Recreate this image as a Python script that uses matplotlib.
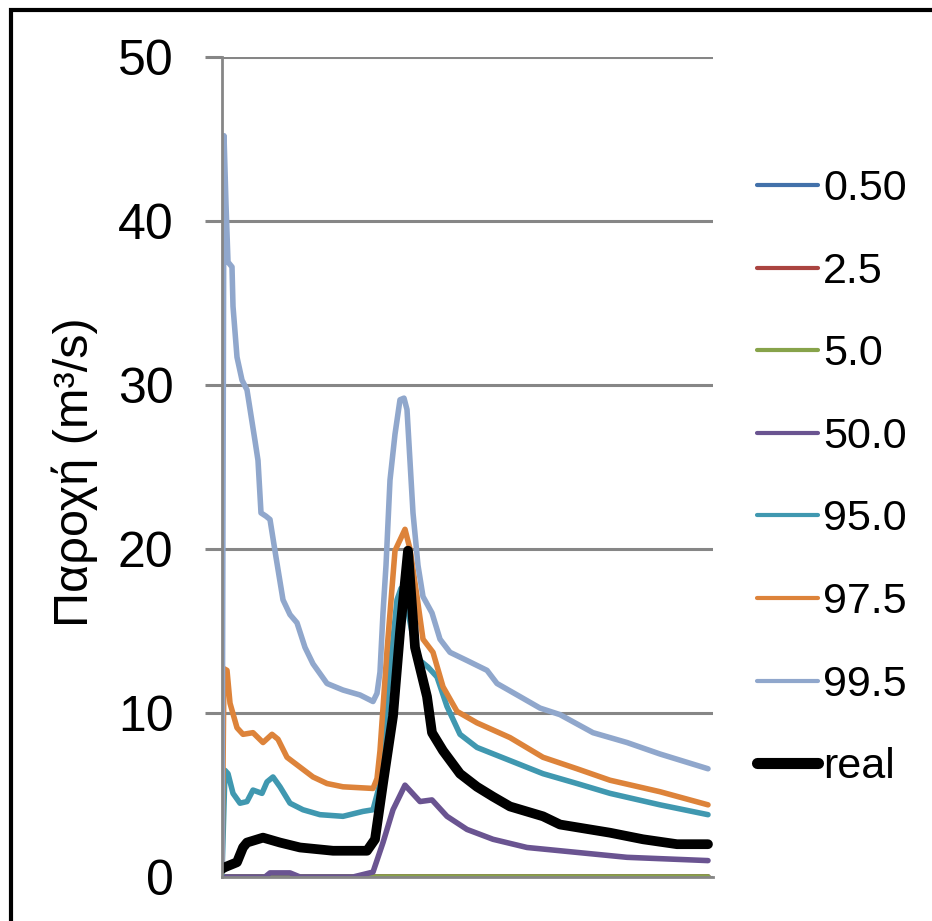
import matplotlib.pyplot as plt
from matplotlib.patches import Rectangle

plt.rcParams['font.family'] = ['Liberation Sans', 'DejaVu Sans']

# time steps (no labels on the x axis in the original)
t_low = [0, 486]
q_050 = [0, 0]
q_25 = [0, 0]
q_50 = [0, 0]

t_500 = [0, 43, 48, 68, 78, 131, 151, 161, 171, 183, 198, 210, 225, 245, 271, 305, 355, 405, 486]
q_500 = [0, 0, 0.25, 0.25, 0, 0, 0.3, 2.1, 4.1, 5.6, 4.6, 4.7, 3.7, 2.9, 2.3, 1.8, 1.5, 1.2, 1.0]

t_950 = [0, 3, 6, 11, 18, 25, 31, 40, 45, 51, 58, 68, 81, 98, 121, 141, 151, 158, 165, 175,
         179, 185, 191, 198, 206, 215, 225, 238, 255, 288, 321, 355, 388, 438, 486]
q_950 = [0.2, 6.5, 6.3, 5.1, 4.5, 4.6, 5.3, 5.1, 5.8, 6.1, 5.5, 4.5, 4.1, 3.8, 3.7, 4.0, 4.1, 5.7, 10.8, 16.9,
         17.6, 16.5, 14.6, 13.2, 12.8, 12.2, 10.4, 8.7, 7.9, 7.1, 6.3, 5.7, 5.1, 4.4, 3.8]

t_975 = [0, 2, 5, 8, 15, 21, 31, 41, 50, 56, 65, 78, 91, 105, 121, 151, 155, 158, 165, 173,
         183, 188, 195, 201, 211, 221, 235, 255, 288, 321, 355, 388, 438, 486]
q_975 = [0.3, 12.7, 12.6, 10.6, 9.1, 8.7, 8.8, 8.2, 8.7, 8.4, 7.3, 6.7, 6.1, 5.7, 5.5, 5.4, 6.0, 7.7, 13.8, 19.9,
         21.2, 20.0, 17.1, 14.5, 13.7, 11.6, 10.1, 9.4, 8.5, 7.3, 6.6, 5.9, 5.2, 4.4]

t_995 = [0, 2, 4, 6, 10, 11, 15, 20, 25, 33, 36, 39, 44, 48, 54, 61, 68, 75, 83, 91, 105, 121, 138,
         151, 155, 158, 161, 164, 168, 173, 178, 182, 185, 191, 196, 201, 210, 218, 228, 245, 265,
         275, 298, 318, 338, 371, 405, 438, 486]
q_995 = [0.5, 45.2, 41.0, 37.5, 37.2, 34.8, 31.7, 30.3, 29.7, 26.6, 25.4, 22.2, 22.0, 21.8, 19.5, 16.9,
         16.0, 15.5, 14.0, 13.0, 11.8, 11.4, 11.1, 10.7, 11.2, 12.5, 16.1, 19.0, 24.2, 27.0, 29.1, 29.2,
         28.5, 22.2, 19.0, 17.1, 16.1, 14.5, 13.7, 13.2, 12.6, 11.8, 11.0, 10.3, 9.9, 8.8, 8.2, 7.5, 6.6]

t_real = [0, 3, 15, 21, 25, 41, 58, 78, 111, 145, 153, 161, 171, 178, 186, 193, 205, 210, 221, 238,
          255, 271, 288, 321, 338, 358, 388, 421, 455, 486]
q_real = [0.5, 0.6, 0.9, 1.8, 2.1, 2.4, 2.1, 1.8, 1.6, 1.6, 2.3, 5.7, 9.8, 14.9, 19.9, 14.0, 11.0, 8.8, 7.7, 6.3,
          5.5, 4.9, 4.3, 3.7, 3.2, 3.0, 2.7, 2.3, 2.0, 2.0]

labels = ['0.50', '2.5', '5.0', '50.0', '95.0', '97.5', '99.5', 'real']
colors = ['#4271AA', '#AA4440', '#87A34A', '#6A5491', '#4098B0', '#DD833A', '#90A7CC', '#000000']

series = [(t_low, q_050), (t_low, q_25), (t_low, q_50), (t_500, q_500),
          (t_950, q_950), (t_975, q_975), (t_995, q_995), (t_real, q_real)]

fig = plt.figure(figsize=(9.32, 9.21), dpi=100)
ax = fig.add_axes([222/932, 1-877/921, (713-222)/932, (877-57)/921])

for (t, q), lab, c in zip(series, labels, colors):
    lw = 7 if lab == 'real' else 4
    ax.plot(t, q, color=c, lw=lw, label=lab, solid_capstyle='round', solid_joinstyle='round')

ax.set_xlim(0, 491)
ax.set_ylim(0, 50)
ax.set_yticks([0, 10, 20, 30, 40, 50])
ax.set_xticks([])
ax.grid(axis='y', color='#868686', lw=2.2)
ax.set_axisbelow(True)
for s in ['top', 'right']:
    ax.spines[s].set_visible(False)
ax.spines['left'].set_color('#868686')
ax.spines['left'].set_linewidth(2)
ax.spines['bottom'].set_color('#868686')
ax.spines['bottom'].set_linewidth(2)
ax.tick_params(axis='y', length=12, width=2.2, color='#868686', pad=23, labelsize=36)
ax.yaxis.get_major_ticks()[0].tick1line.set_visible(False)

fig.text(75/932, 1-472/921, 'Παροχή (m³/s)', rotation=90, ha='center', va='center', fontsize=35)

leg = fig.legend(loc='upper left', bbox_to_anchor=(757/932, 1-169/921), frameon=False,
                 fontsize=31, handlelength=1.42, handletextpad=0.12, labelspacing=0.99,
                 borderaxespad=0, borderpad=0)
for ln in leg.get_lines():
    ln.set_linewidth(8 if ln.get_label() == 'real' else 3)

# black frame around the chart (cropped on right and bottom)
fig.patches.append(Rectangle((11/932, -0.05), 1.1, 1-10/921 + 0.05, transform=fig.transFigure,
                             fill=False, edgecolor='black', lw=3))

fig.savefig('out.png', dpi=100)
